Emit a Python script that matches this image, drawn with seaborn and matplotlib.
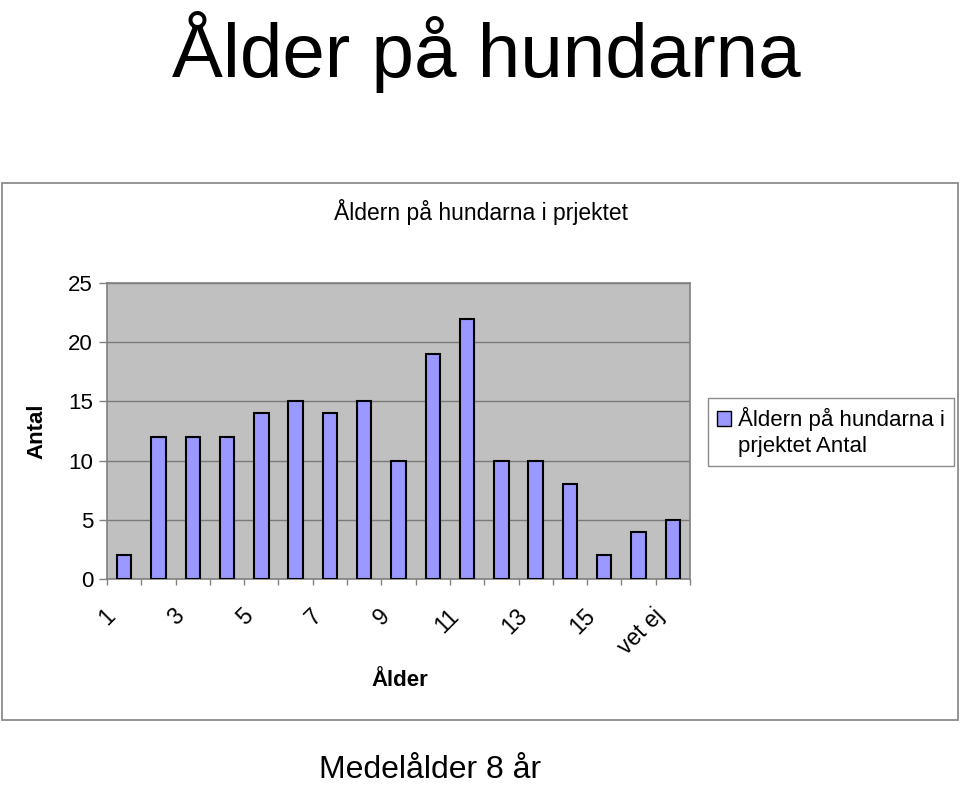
import matplotlib
matplotlib.use('agg')
import seaborn as sns
import matplotlib.pyplot as plt
import matplotlib.transforms as mtransforms
from matplotlib.patches import Rectangle, Patch
import pandas as pd

# data
ages = ['1', '2', '3', '4', '5', '6', '7', '8', '9', '10', '11', '12', '13', '14', '15', '16', 'vet ej']
antal = [2, 12, 12, 12, 14, 15, 14, 15, 10, 19, 22, 10, 10, 8, 2, 4, 5]
shown_ages = ['1', '3', '5', '7', '9', '11', '13', '15', 'vet ej']
y_ticks = [0, 5, 10, 15, 20, 25]

sns.set_style('white')
plt.rcParams['font.family'] = ['Liberation Sans', 'DejaVu Sans']
plt.rcParams.update({'text.color': 'black', 'axes.labelcolor': 'black',
                     'xtick.color': 'black', 'ytick.color': 'black'})

W, H = 960, 786
fig = plt.figure(figsize=(W / 100, H / 100), dpi=100)

# chart frame
fig.patches.append(Rectangle((2 / W, 1 - 720 / H), 956 / W, 537 / H, transform=fig.transFigure,
                             fill=False, edgecolor='#8c8c8c', linewidth=1.3))

ax = fig.add_axes([107 / W, 1 - 579 / H, 583 / W, 296 / H])
ax.set_facecolor('#c0c0c0')

df = pd.DataFrame({'Ålder': ages, 'Antal': antal})
sns.barplot(data=df, x='Ålder', y='Antal', order=ages, color='#9999ff', saturation=1,
            width=0.42, edgecolor='black', linewidth=1.5, ax=ax, zorder=3)

ax.set_ylim(0, 25)
ax.set_yticks(y_ticks)
ax.yaxis.grid(True, color='#7a7a7a', linewidth=1)
ax.set_axisbelow(True)
for side in ['top', 'right', 'left', 'bottom']:
    ax.spines[side].set_visible(True)
    ax.spines[side].set_color('#808080')
    ax.spines[side].set_linewidth(1.2)

# category labels, only every other one
ax.set_xticks(range(len(ages)))
ax.set_xticklabels([a if a in shown_ages else '' for a in ages], rotation=45,
                   ha='right', va='top', fontsize=16.5)
ax.set_xticks([i - 0.5 for i in range(len(ages) + 1)], minor=True)
ax.tick_params(axis='x', which='major', length=0, pad=18)
ax.tick_params(axis='x', which='minor', bottom=True, length=4, width=1, color='#808080')
ax.tick_params(axis='y', left=True, length=6, width=1, color='#808080', labelsize=16, pad=4)
offset = mtransforms.ScaledTranslation(-4 / 100, 0, fig.dpi_scale_trans)
for lbl in ax.get_xticklabels():
    lbl.set_transform(lbl.get_transform() + offset)

ax.set_xlabel('Ålder', fontsize=16, fontweight='bold')
ax.set_ylabel('Antal', fontsize=16, fontweight='bold')
ax.xaxis.set_label_coords(0.503, -0.307)
ax.yaxis.set_label_coords(-0.103, 0.5)

handle = Patch(facecolor='#9999ff', edgecolor='black', linewidth=1)
leg = ax.legend([handle], ['Åldern på hundarna i\nprjektet Antal'], loc='upper left',
                bbox_to_anchor=(708 / W, 1 - 398 / H), bbox_transform=fig.transFigure,
                borderaxespad=0, fontsize=16, fancybox=False, framealpha=1,
                edgecolor='#8c8c8c', handlelength=0.65, handleheight=0.65,
                handletextpad=0.3, borderpad=0.4)
leg.get_frame().set_linewidth(1)
leg.get_texts()[0].set_linespacing(1.3)
# put the square beside the first line, as in the reference
box = leg.get_patches()[0]
box.set_y(box.get_y() + 10)

fig.text(481 / W, 1 - 212 / H, 'Åldern på hundarna i prjektet', ha='center', va='center', fontsize=16.5)
fig.text(486 / W, 1 - 77 / H, 'Ålder på hundarna', ha='center', va='baseline', fontsize=55)
fig.text(430 / W, 1 - 778 / H, 'Medelålder 8 år', ha='center', va='baseline', fontsize=23)

fig.savefig('out.png', dpi=100)
